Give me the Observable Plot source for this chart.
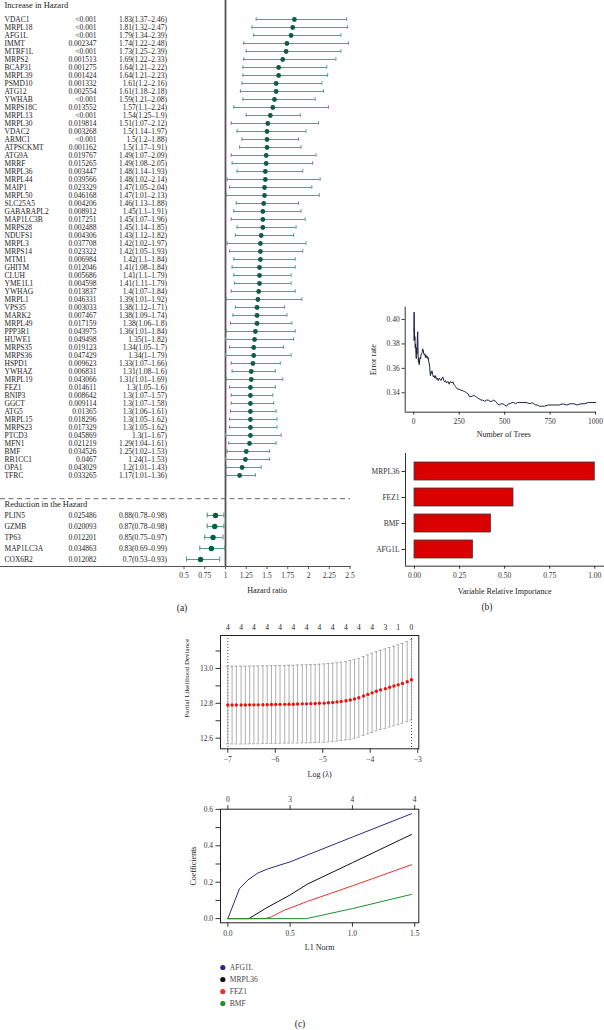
<!DOCTYPE html>
<html><head><meta charset="utf-8">
<script src="https://cdn.jsdelivr.net/npm/d3@7"></script>
<script src="https://cdn.jsdelivr.net/npm/@observablehq/plot@0.6"></script>
<style>
html,body{margin:0;padding:0;background:#fff;}
#fig{position:relative;width:604px;height:1030px;overflow:hidden;font-family:"Liberation Serif",serif;background:#fff;}
.p{position:absolute;}
.lab{position:absolute;z-index:10;font-size:9.5px;color:#222;transform:translate(-50%,-50%);white-space:nowrap;}
</style></head><body><div id="fig"></div>
<script>
// ---------- (a) forest plot data ----------
const incHeader = "Increase in Hazard";
const redHeader = "Reduction in the Hazard";
const incGenes = ["VDAC1","MRPL18","AFG1L","IMMT","MTRF1L","MRPS2","BCAP31","MRPL39","PSMD10","ATG12","YWHAB","MRPS18C","MRPL13","MRPL30","VDAC2","ARMC1","ATPSCKMT","ATG9A","MRRF","MRPL36","MRPL44","MAIP1","MRPL50","SLC25A5","GABARAPL2","MAP1LC3B","MRPS28","NDUFS1","MRPL3","MRPS14","MTM1","GHITM","CLUH","YME1L1","YWHAG","MRPL1","VPS35","MARK2","MRPL49","PPP3R1","HUWE1","MRPS35","MRPS36","HSPD1","YWHAZ","MRPL19","FEZ1","BNIP3","GGCT","ATG5","MRPL15","MRPS23","PTCD3","MFN1","BMF","RB1CC1","OPA1","TFRC"];
const incP = ["<0.001","<0.001","<0.001","0.002347","<0.001","0.001513","0.001275","0.001424","0.001332","0.002554","<0.001","0.013552","<0.001","0.019814","0.003268","<0.001","0.001162","0.019767","0.015265","0.003447","0.039566","0.023329","0.046168","0.004206","0.008912","0.017251","0.002488","0.004306","0.037708","0.023322","0.006984","0.012046","0.005686","0.004598","0.013837","0.046331","0.003033","0.007467","0.017159","0.043975","0.049498","0.019123","0.047429","0.009623","0.006831","0.043066","0.014611","0.008642","0.009114","0.01365","0.018296","0.017329","0.045869","0.021219","0.034526","0.0467","0.043029","0.033265"];
const incHR = [1.83,1.81,1.79,1.74,1.73,1.69,1.64,1.64,1.61,1.61,1.59,1.57,1.54,1.51,1.5,1.5,1.5,1.49,1.49,1.48,1.48,1.47,1.47,1.46,1.45,1.45,1.45,1.43,1.42,1.42,1.42,1.41,1.41,1.41,1.4,1.39,1.38,1.38,1.38,1.36,1.35,1.34,1.34,1.33,1.31,1.31,1.3,1.3,1.3,1.3,1.3,1.3,1.3,1.29,1.25,1.24,1.2,1.17];
const incLo = [1.37,1.32,1.34,1.22,1.25,1.22,1.21,1.21,1.2,1.18,1.21,1.1,1.25,1.07,1.14,1.2,1.17,1.07,1.08,1.14,1.02,1.05,1.01,1.13,1.1,1.07,1.14,1.12,1.02,1.05,1.1,1.08,1.1,1.11,1.07,1.01,1.12,1.09,1.06,1.01,1,1.05,1,1.07,1.08,1.01,1.05,1.07,1.07,1.06,1.05,1.05,1,1.04,1.02,1,1.01,1.01];
const incHi = [2.46,2.47,2.39,2.48,2.39,2.33,2.22,2.23,2.16,2.18,2.08,2.24,1.9,2.12,1.97,1.88,1.91,2.09,2.05,1.93,2.14,2.04,2.13,1.88,1.91,1.96,1.85,1.82,1.97,1.93,1.84,1.84,1.79,1.79,1.84,1.92,1.71,1.74,1.8,1.84,1.82,1.7,1.79,1.66,1.6,1.69,1.6,1.57,1.58,1.61,1.62,1.62,1.67,1.61,1.53,1.53,1.43,1.36];
const redGenes = ["PLIN5","GZMB","TP63","MAP1LC3A","COX6B2"];
const redP = ["0.025486","0.020093","0.012201","0.034863","0.012082"];
const redHR = [0.88,0.87,0.85,0.83,0.7];
const redLo = [0.78,0.78,0.75,0.69,0.53];
const redHi = [0.98,0.98,0.97,0.99,0.93];
const hrTicks = [0.5,0.75,1,1.25,1.5,1.75,2,2.25,2.5];

// ---------- (b) random forest data ----------
const rfCurve = [[1,0.383],[2,0.406],[3,0.390],[4,0.392],[5,0.383],[6,0.386],[8,0.377],[10,0.380],[12,0.372],[14,0.368],[16,0.377],[18,0.372],[20,0.386],[22,0.390],[24,0.370],[26,0.365],[28,0.368],[30,0.363],[32,0.366],[35,0.369],[38,0.368],[40,0.371],[43,0.372],[46,0.373],[49,0.376],[52,0.375],[55,0.372],[58,0.371],[61,0.372],[64,0.369],[67,0.371],[70,0.369],[73,0.370],[76,0.368],[79,0.369],[82,0.366],[85,0.364],[88,0.361],[90,0.356],[92,0.354],[95,0.357],[98,0.356],[100,0.358],[104,0.355],[108,0.353],[112,0.354],[116,0.352],[120,0.354],[125,0.351],[130,0.352],[135,0.350],[140,0.352],[145,0.351],[150,0.350],[155,0.352],[160,0.353],[165,0.350],[170,0.349],[175,0.350],[180,0.348],[185,0.349],[190,0.349],[195,0.347],[200,0.349],[205,0.349],[210,0.348],[215,0.349],[220,0.347],[225,0.346],[230,0.345],[235,0.344],[240,0.343],[250,0.343],[260,0.342],[270,0.342],[275,0.341],[280,0.341],[290,0.340],[300,0.339],[305,0.337],[310,0.337],[320,0.337],[330,0.338],[340,0.337],[350,0.336],[360,0.335],[370,0.334],[380,0.334],[390,0.333],[400,0.334],[410,0.334],[420,0.333],[430,0.333],[440,0.334],[450,0.333],[460,0.331],[470,0.330],[480,0.331],[490,0.331],[500,0.330],[510,0.329],[520,0.331],[530,0.331],[540,0.332],[550,0.332],[560,0.331],[570,0.332],[580,0.332],[600,0.332],[620,0.332],[640,0.331],[650,0.332],[660,0.331],[670,0.330],[680,0.330],[690,0.329],[700,0.329],[720,0.329],[740,0.330],[760,0.330],[780,0.330],[800,0.330],[820,0.331],[840,0.330],[860,0.331],[880,0.331],[900,0.330],[920,0.331],[940,0.331],[960,0.332],[980,0.332],[1000,0.332]];
const errTicksX = [0,250,500,750,1000];
const errTicksY = [0.34,0.36,0.38,0.40];
const impGenes = ["MRPL36","FEZ1","BMF","AFG1L"];
const impValues = [1.00,0.549,0.424,0.324];
const impTicks = [0,0.25,0.5,0.75,1];

// ---------- (c) LASSO data ----------
const cvLogLambda = [-7.00,-6.91,-6.82,-6.72,-6.63,-6.54,-6.45,-6.36,-6.26,-6.17,-6.08,-5.99,-5.90,-5.80,-5.71,-5.62,-5.53,-5.43,-5.34,-5.25,-5.16,-5.07,-4.97,-4.88,-4.79,-4.70,-4.61,-4.51,-4.42,-4.33,-4.24,-4.14,-4.05,-3.96,-3.87,-3.78,-3.68,-3.59,-3.50,-3.41,-3.32,-3.22,-3.13];
const cvMean = [12.790,12.790,12.790,12.790,12.790,12.791,12.791,12.791,12.792,12.792,12.793,12.793,12.794,12.794,12.795,12.795,12.796,12.797,12.797,12.798,12.799,12.800,12.801,12.803,12.805,12.808,12.811,12.815,12.819,12.825,12.832,12.842,12.851,12.860,12.869,12.877,12.884,12.892,12.899,12.906,12.914,12.924,12.935];
const cvSD = [0.223,0.223,0.223,0.223,0.223,0.223,0.223,0.223,0.223,0.223,0.223,0.223,0.223,0.223,0.223,0.223,0.224,0.224,0.224,0.224,0.224,0.224,0.225,0.225,0.225,0.225,0.225,0.225,0.226,0.226,0.226,0.226,0.227,0.227,0.227,0.227,0.228,0.228,0.228,0.229,0.229,0.230,0.231];
const cvTopCounts = ["4","4","4","4","4","4","4","4","4","4","4","4","3","1","0"];
const cvTicksX = [-7,-6,-5,-4,-3];
const cvTicksY = [12.6,12.7,12.8,12.9,13.0,13.1];

const lassoGenes = ["AFG1L","MRPL36","FEZ1","BMF"];
const lassoColors = ["#2a2a85","#111111","#e8322e","#1f8f2f"];
const pathAFG1L = [[0,0],[0.093,0.164],[0.16,0.212],[0.24,0.25],[0.32,0.273],[0.5,0.312],[0.64,0.35],[1.0,0.448],[1.474,0.576]];
const pathMRPL36 = [[0,0],[0.17,0],[0.3,0.055],[0.5,0.13],[0.64,0.19],[1.0,0.307],[1.474,0.462]];
const pathFEZ1 = [[0,0],[0.3,0],[0.35,0.01],[0.45,0.045],[0.64,0.095],[1.0,0.18],[1.474,0.296]];
const pathBMF = [[0,0],[0.63,0],[1.0,0.055],[1.474,0.133]];
const l1Ticks = [0,0.5,1,1.5];
const l1TopCounts = ["0","3","4","4"];
const coefTicks = [0,0.1,0.2,0.3,0.4,0.5,0.6];

// ---------- helpers ----------
const fig = document.getElementById("fig");
const baseStyle = "font-family:'Liberation Serif',serif;font-size:7.5px;color:#333;background:transparent;overflow:visible;max-width:none;";
function place(node, left, top, w, h) {
  const d = document.createElement("div");
  d.className = "p";
  d.style.left = left + "px"; d.style.top = top + "px";
  d.style.width = w + "px"; d.style.height = h + "px";
  d.appendChild(node);
  fig.appendChild(d);
}
function label(text, x, y) {
  const d = document.createElement("div");
  d.className = "lab"; d.textContent = text;
  d.style.left = x + "px"; d.style.top = y + "px";
  fig.appendChild(d);
}
const evenTenth = d => (Math.round(d * 10) % 2 === 0 ? d.toFixed(1) : "");
const intMinus = d => String(d).replace("-", "\u2212");

// ---------- (a) forest ----------
const barColor = "#55a083", dotColor = "#00623d", txt = "#222";
const incRows = incGenes.map((g, i) => ({gene: g, p: incP[i], hr: incHR[i], lo: incLo[i], hi: incHi[i]}));
const redRows = redGenes.map((g, i) => ({gene: g, p: redP[i], hr: redHR[i], lo: redLo[i], hi: redHi[i]}));
const hrLabel = d => `${d.hr}(${d.lo}–${d.hi})`;

function forestMarks(rows, cap, r) {
  return [
    Plot.ruleY(rows, {y: "gene", x1: "lo", x2: "hi", stroke: barColor, strokeWidth: 1.1}),
    Plot.ruleX(rows, {x: "lo", y1: "gene", y2: "gene", insetTop: -cap, insetBottom: -cap, stroke: barColor, strokeWidth: 1.1}),
    Plot.ruleX(rows, {x: "hi", y1: "gene", y2: "gene", insetTop: -cap, insetBottom: -cap, stroke: barColor, strokeWidth: 1.1}),
    Plot.dot(rows, {x: "hr", y: "gene", r, fill: dotColor}),
    Plot.text(rows, {y: "gene", text: "gene", frameAnchor: "left", dx: 4, textAnchor: "start", lineAnchor: "middle", fill: txt}),
    Plot.text(rows, {y: "gene", text: "p", frameAnchor: "left", dx: 96, textAnchor: "end", lineAnchor: "middle", fill: txt}),
    Plot.text(rows, {y: "gene", text: hrLabel, frameAnchor: "left", dx: 166.5, textAnchor: "end", lineAnchor: "middle", fill: txt})
  ];
}

const forestTop = Plot.plot({
  width: 365, height: 497, marginLeft: 0, marginRight: 15, marginTop: 0, marginBottom: 0,
  style: baseStyle,
  x: {domain: [0.5, 2.5], range: [183.5, 349.5], axis: null},
  y: {type: "point", domain: incGenes, range: [15, 478.7], padding: 0, axis: null},
  marks: [
    Plot.ruleX([1], {stroke: "#555", strokeWidth: 1.8}),
    ...forestMarks(incRows, 1.7, 2.4),
    Plot.text([incHeader], {text: d => d, frameAnchor: "top-left", dx: 4, dy: 4.7, textAnchor: "start", lineAnchor: "middle", fontSize: 8.5, fill: txt})
  ]
});
place(forestTop, 0, 0, 365, 497);

const forestBottom = Plot.plot({
  width: 365, height: 100, marginLeft: 0, marginRight: 15, marginTop: 0, marginBottom: 31,
  style: baseStyle,
  x: {domain: [0.5, 2.5], range: [183.5, 349.5]},
  y: {type: "point", domain: [redHeader, ...redGenes], range: [6.3, 62.7], padding: 0, axis: null},
  marks: [
    Plot.ruleY([redHeader], {dy: -5.8, stroke: "#666", strokeDasharray: "5,3.5", strokeWidth: 1}),
    Plot.ruleX([1], {stroke: "#555", strokeWidth: 1.8}),
    Plot.frame({anchor: "bottom", stroke: "#555"}),
    ...forestMarks(redRows, 2.5, 2.7),
    Plot.text([redHeader], {y: d => d, text: d => d, frameAnchor: "left", dx: 4, textAnchor: "start", lineAnchor: "middle", fontSize: 8.5, fill: txt}),
    Plot.axisX({ticks: hrTicks, tickFormat: d => String(d), tickSize: 3, tickPadding: 3.5, label: null, stroke: "#555"}),
    Plot.text(["Hazard ratio"], {text: d => d, frameAnchor: "bottom-left", dx: 266.5, dy: 24, textAnchor: "middle", lineAnchor: "middle", fontSize: 8, fill: txt})
  ]
});
place(forestBottom, 0, 497, 365, 100);

// ---------- (b) error rate ----------
const rfRows = rfCurve.map(([t, e]) => ({t, e}));
const errPlot = Plot.plot({
  width: 244, height: 205, marginLeft: 44.7, marginRight: 8, marginTop: 66.7, marginBottom: 33.3,
  style: baseStyle,
  x: {domain: [-47, 1005]},
  y: {domain: [0.3241, 0.4101]},
  marks: [
    Plot.ruleX([-47], {stroke: "#333"}),
    Plot.ruleY([0.3241], {stroke: "#333"}),
    Plot.line(rfRows, {x: "t", y: "e", stroke: "#1b2140", strokeWidth: 1}),
    Plot.axisX({ticks: errTicksX, tickFormat: d => String(d), tickSize: 3, tickPadding: 3, label: null}),
    Plot.axisY({ticks: errTicksY, tickFormat: d => d.toFixed(2), tickSize: 3, tickPadding: 2.5, label: null}),
    Plot.text(["Error rate"], {text: d => d, frameAnchor: "left", dx: -32, rotate: -90, textAnchor: "middle", lineAnchor: "middle", fontSize: 8, fill: txt}),
    Plot.text(["Number of Trees"], {text: d => d, frameAnchor: "bottom", dx: 3, dy: 22.3, textAnchor: "middle", lineAnchor: "middle", fontSize: 8, fill: txt})
  ]
});
place(errPlot, 360, 240, 244, 205);

const impRows = impGenes.map((g, i) => ({gene: g, v: impValues[i]}));
const impPlot = Plot.plot({
  width: 244, height: 175, marginLeft: 45, marginRight: 0.7, marginTop: 13, marginBottom: 49.3,
  style: baseStyle,
  x: {domain: [-0.05, 1.05]},
  y: {type: "band", domain: impGenes, range: [20.75, 119.05], paddingInner: 0.315, paddingOuter: 0},
  marks: [
    Plot.barX(impRows, {x: "v", y: "gene", fill: "#da0000", stroke: "#3a3a3a", strokeWidth: 0.8}),
    Plot.ruleX([-0.05], {stroke: "#333"}),
    Plot.frame({anchor: "bottom", stroke: "#333"}),
    Plot.axisX({ticks: impTicks, tickFormat: d => d.toFixed(2), tickSize: 3, tickPadding: 3, label: null}),
    Plot.axisY({tickSize: 3.5, tickPadding: 2.5, label: null}),
    Plot.text(["Variable Relative Importance"], {text: d => d, frameAnchor: "bottom", dy: 25, textAnchor: "middle", lineAnchor: "middle", fontSize: 8, fill: txt})
  ]
});
place(impPlot, 360, 440, 244, 175);

// ---------- (c) cross-validation ----------
const cvRows = cvLogLambda.map((l, i) => ({l, m: cvMean[i], s: cvSD[i]}));
const cvTop = cvRows.filter((d, i) => i % 3 === 0).map((d, k) => ({l: d.l, n: cvTopCounts[k]}));
const cvPlot = Plot.plot({
  width: 280, height: 170, marginLeft: 60, marginRight: 21.7, marginTop: 25, marginBottom: 31.7,
  style: baseStyle,
  x: {domain: [-7.154, -2.976]},
  y: {domain: [12.539, 13.189]},
  marks: [
    Plot.ruleX([cvLogLambda[0], cvLogLambda[cvLogLambda.length - 1]], {stroke: "#444", strokeDasharray: "1,2"}),
    Plot.ruleX(cvRows, {x: "l", y1: d => d.m - d.s, y2: d => d.m + d.s, stroke: "#9a9a9a", strokeWidth: 0.8}),
    Plot.ruleY(cvRows, {y: d => d.m + d.s, x1: "l", x2: "l", insetLeft: -1.5, insetRight: -1.5, stroke: "#9a9a9a", strokeWidth: 0.8}),
    Plot.ruleY(cvRows, {y: d => d.m - d.s, x1: "l", x2: "l", insetLeft: -1.5, insetRight: -1.5, stroke: "#9a9a9a", strokeWidth: 0.8}),
    Plot.dot(cvRows, {x: "l", y: "m", r: 1.7, fill: "#ee1111"}),
    Plot.frame({stroke: "#222"}),
    Plot.text(cvTop, {x: "l", text: "n", frameAnchor: "top", dy: -8.3, lineAnchor: "middle", fill: txt}),
    Plot.axisX({ticks: cvTicksX, tickFormat: intMinus, tickSize: 4.5, tickPadding: 3, label: null}),
    Plot.axisY({ticks: cvTicksY, tickFormat: evenTenth, tickSize: 4.5, tickPadding: 3, label: null}),
    Plot.text(["Partial Likelihood Deviance"], {text: d => d, frameAnchor: "left", dx: -34, dy: -14, rotate: -90, textAnchor: "middle", lineAnchor: "middle", fontSize: 7, fill: txt}),
    Plot.text(["Log (λ)"], {text: d => d, frameAnchor: "bottom", dy: 25.7, textAnchor: "middle", lineAnchor: "middle", fontSize: 8, fill: txt})
  ]
});
place(cvPlot, 160, 610, 280, 170);

// ---------- (c) coefficient paths ----------
const pathRows = [
  ...pathAFG1L.map(([l1, c]) => ({gene: "AFG1L", l1, c})),
  ...pathMRPL36.map(([l1, c]) => ({gene: "MRPL36", l1, c})),
  ...pathFEZ1.map(([l1, c]) => ({gene: "FEZ1", l1, c})),
  ...pathBMF.map(([l1, c]) => ({gene: "BMF", l1, c}))
];
const dfMap = new Map(l1Ticks.map((t, i) => [t, l1TopCounts[i]]));
const pathPlot = Plot.plot({
  width: 280, height: 175, marginLeft: 60, marginRight: 21.7, marginTop: 28.7, marginBottom: 32.7,
  style: baseStyle,
  x: {domain: [-0.059, 1.533]},
  y: {domain: [-0.023, 0.601]},
  color: {domain: lassoGenes, range: lassoColors},
  marks: [
    Plot.line(pathRows, {x: "l1", y: "c", z: "gene", stroke: "gene", strokeWidth: 1}),
    Plot.frame({stroke: "#222"}),
    Plot.axisX({ticks: l1Ticks, tickFormat: d => d.toFixed(1), tickSize: 4.5, tickPadding: 3, label: null}),
    Plot.axisX({anchor: "top", ticks: l1Ticks, tickFormat: d => dfMap.get(d), tickSize: 4.5, tickPadding: 3, label: null}),
    Plot.axisY({ticks: coefTicks, tickFormat: evenTenth, tickSize: 4.5, tickPadding: 3, label: null}),
    Plot.text(["Coefficients"], {text: d => d, frameAnchor: "left", dx: -26.7, rotate: -90, textAnchor: "middle", lineAnchor: "middle", fontSize: 8, fill: txt}),
    Plot.text(["L1 Norm"], {text: d => d, frameAnchor: "bottom", dy: 24.4, textAnchor: "middle", lineAnchor: "middle", fontSize: 8, fill: txt})
  ]
});
place(pathPlot, 160, 780, 280, 175);

const legendPlot = Plot.plot({
  width: 100, height: 60, margin: 0,
  style: baseStyle,
  x: {axis: null},
  y: {type: "point", domain: lassoGenes, range: [11, 49], padding: 0, axis: null},
  color: {domain: lassoGenes, range: lassoColors},
  marks: [
    Plot.dot(lassoGenes, {y: d => d, fill: d => d, r: 2.6, frameAnchor: "left", dx: 12.3}),
    Plot.text(lassoGenes, {y: d => d, text: d => d, frameAnchor: "left", dx: 19.3, textAnchor: "start", lineAnchor: "middle", fill: "#444"})
  ]
});
place(legendPlot, 210, 955, 100, 60);

label("(a)", 182, 608);
label("(b)", 487, 607);
label("(c)", 300, 1024);
</script></body></html>
